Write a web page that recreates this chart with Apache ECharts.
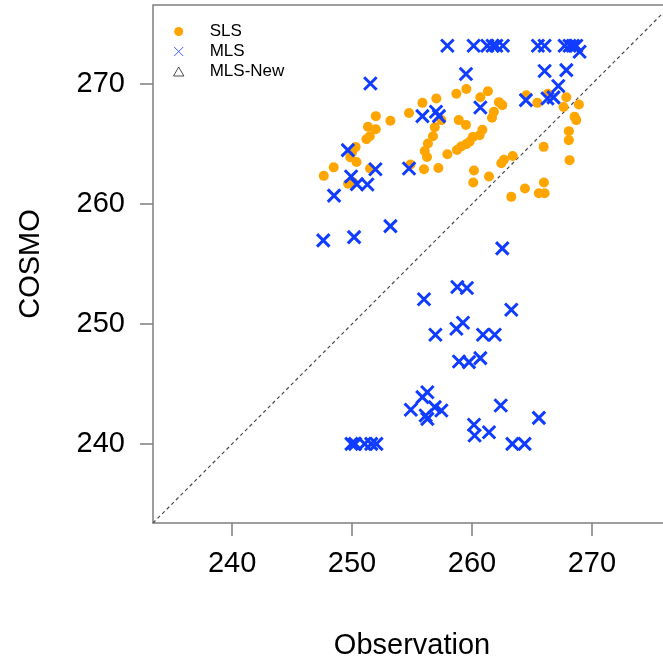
<!DOCTYPE html>
<html>
<head>
<meta charset="utf-8">
<script src="https://cdn.jsdelivr.net/npm/echarts@6/dist/echarts.min.js"></script>
<style>
html,body{margin:0;padding:0;background:#fff;}
#chart{width:663px;height:657px;}
</style>
</head>
<body>
<div id="chart"></div>
<script>
const tickValues = [240, 250, 260, 270];
const axisMin = 233.4, axisMax = 276.6;

const slsX = [247.64,248.47,249.67,250.3,250.0,249.85,250.37,250.1,251.5,251.2,251.48,251.33,251.98,251.98,253.2,254.75,254.87,255.87,257.03,258.7,259.53,256.9,256.75,256.33,256.06,256.25,256.0,257.2,257.45,258.9,259.5,257.95,258.75,259.1,259.53,259.8,260.08,260.64,260.87,260.7,261.33,262.25,262.53,261.83,261.67,260.17,260.11,261.42,262.45,262.67,263.4,263.28,264.42,266.0,265.58,266.06,265.98,264.53,265.45,266.33,267.87,267.64,268.92,268.56,268.7,268.08,268.08,268.14];
const slsY = [262.35,263.06,261.7,264.75,264.3,263.9,263.5,261.8,262.96,265.4,265.66,266.44,266.24,267.33,266.94,267.6,263.3,268.44,268.8,269.2,269.6,266.4,265.66,265.05,264.43,263.93,262.9,263.0,267.0,267.0,266.6,264.15,264.5,264.8,265.0,265.2,265.6,265.74,266.2,268.9,269.4,268.5,268.25,267.7,267.2,262.8,261.8,262.3,263.4,263.7,264.0,260.6,261.3,261.8,260.9,260.9,264.77,269.08,268.44,269.2,268.9,268.1,268.3,267.27,267.0,266.08,265.33,263.66];

const mlsX = [257.95,260.14,261.28,261.72,262.03,262.58,265.5,266.06,267.73,268.14,268.42,268.7,268.98,259.5,266.06,267.87,267.2,264.5,266.3,266.8,260.7,255.87,257.0,257.25,254.75,251.53,249.65,251.95,249.92,250.4,251.28,248.5,253.2,250.17,247.6,262.53,256.0,258.78,259.58,263.28,256.95,258.7,259.25,260.92,261.9,258.92,259.75,260.7,256.28,255.87,254.9,256.9,257.45,256.14,256.28,262.4,265.58,260.17,260.22,261.42,263.37,264.39,249.95,250.25,251.05,251.6,252.03];
const mlsY = [273.2,273.2,273.2,273.2,273.2,273.2,273.2,273.2,273.2,273.2,273.2,273.2,272.7,270.85,271.1,271.17,269.85,268.67,268.8,268.9,268.05,267.33,267.7,267.33,262.96,270.05,264.5,262.9,262.3,261.66,261.63,260.7,258.16,257.24,256.97,256.3,252.06,253.08,253.0,251.18,249.1,249.6,250.1,249.1,249.1,246.87,246.82,247.15,244.3,243.9,242.84,243.06,242.78,242.36,242.08,243.2,242.17,241.59,240.7,240.97,240.0,240.0,240.0,240.0,240.0,240.0,240.0];

const mlsNewX = [];
const mlsNewY = [];

const FONT = 'Liberation Sans, Arial, Helvetica, sans-serif';
const BLUE = '#0f3cff';
const ORANGE = '#FFA500';
const FRAME = '#7f7f7f';
const XPATH = 'path://M0,0L10,10M0,10L10,0';
const TRIPATH = 'path://M5,0L10,8.66L0,8.66Z';

const zip = (a, b) => a.map((v, i) => [v, b[i]]);

const chart = echarts.init(document.getElementById('chart'), null, {renderer: 'canvas'});
chart.setOption({
  animation: false,
  backgroundColor: '#fff',
  grid: {left: 153, top: 5, width: 518, height: 518, outerBoundsMode: 'none', containLabel: false,
         show: true, borderColor: FRAME, borderWidth: 1.5, backgroundColor: 'transparent'},
  legend: {
    orient: 'vertical', left: 168, top: 18, selectedMode: false,
    itemWidth: 52, itemHeight: 9, itemGap: 3,
    textStyle: {fontSize: 17, fontFamily: FONT, color: '#000', lineHeight: 17},
    data: [
      {name: 'SLS', icon: 'circle', itemStyle: {color: ORANGE}},
      {name: 'MLS', icon: XPATH, itemStyle: {color: 'transparent', borderColor: '#3d5cff', borderWidth: 1}},
      {name: 'MLS-New', icon: TRIPATH, itemStyle: {color: 'transparent', borderColor: '#222', borderWidth: 1}}
    ]
  },
  xAxis: {
    type: 'value', min: axisMin, max: axisMax,
    name: 'Observation', nameLocation: 'middle', nameGap: 108,
    nameTextStyle: {fontSize: 29, fontFamily: FONT, color: '#000'},
    axisLine: {show: false},
    splitLine: {show: false},
    axisTick: {show: true, length: 13, lineStyle: {color: FRAME, width: 1.5}, customValues: tickValues},
    axisLabel: {fontSize: 29, fontFamily: FONT, color: '#000', margin: 26, customValues: tickValues}
  },
  yAxis: {
    type: 'value', min: axisMin, max: axisMax,
    name: 'COSMO', nameLocation: 'middle', nameGap: 108,
    nameTextStyle: {fontSize: 29, fontFamily: FONT, color: '#000'},
    axisLine: {show: false},
    splitLine: {show: false},
    axisTick: {show: true, length: 13, lineStyle: {color: FRAME, width: 1.5}, customValues: tickValues},
    axisLabel: {fontSize: 29, fontFamily: FONT, color: '#000', margin: 28, customValues: tickValues}
  },
  series: [
    {
      name: 'diag', type: 'line', silent: true, symbol: 'none',
      data: [[axisMin, axisMin], [axisMax, axisMax]],
      lineStyle: {color: '#4a4a4a', width: 1.2, type: [3.5, 3]}, z: 1
    },
    {
      name: 'SLS', type: 'scatter', data: zip(slsX, slsY),
      symbol: 'circle', symbolSize: 10,
      itemStyle: {color: ORANGE, opacity: 1}, z: 2
    },
    {
      name: 'MLS', type: 'scatter', data: zip(mlsX, mlsY),
      symbol: XPATH, symbolSize: 12.5,
      itemStyle: {color: 'transparent', borderColor: BLUE, borderWidth: 3, opacity: 1}, z: 3
    },
    {
      name: 'MLS-New', type: 'scatter', data: zip(mlsNewX, mlsNewY),
      symbol: 'triangle', symbolSize: 10,
      itemStyle: {color: 'transparent', borderColor: '#222', borderWidth: 1}, z: 4
    }
  ]
});
</script>
</body>
</html>
